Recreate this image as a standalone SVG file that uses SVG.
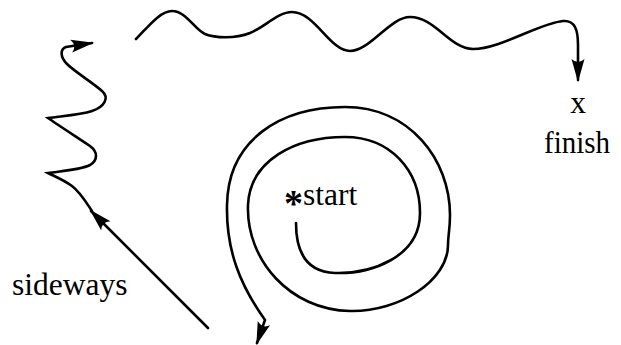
<svg xmlns="http://www.w3.org/2000/svg" width="621" height="345" viewBox="0 0 621 345">
<style>
.ln{fill:none;stroke:#000;stroke-width:2.6;stroke-linecap:round;stroke-linejoin:miter}
.t{font-family:"Liberation Serif","Times New Roman",serif;font-size:31.5px;fill:#000}
</style>
<defs>
<marker id="ah" viewBox="-25 -8 27 16" refX="-2" refY="0" markerWidth="27" markerHeight="16" markerUnits="userSpaceOnUse" orient="auto" overflow="visible">
<path d="M0,0 L-23,-6.5 Q-17,0 -23,6.5 Z" fill="#000"/>
</marker>
</defs>
<rect width="621" height="345" fill="#fff"/>
<g id="connectors">
<path id="wave" class="ln" marker-end="url(#ah)" d="M136,39 C148,27 160,11 172,11 C186,11 195,30 205,34 C215,38 235,39 250,33 C265,27 278,12 292,12 C315,12 330,51 350,51 C370,51 390,17 410,17 C435,17 450,49 473,49 C500,49 540,23 563,21 C575,20 578,30 578,45 L578,80"/>
<path id="squiggle" class="ln" marker-end="url(#ah)" d="M92,211 C86,202 80,192 72,186 C64,180 54,176 48,173 C62,171 80,170 90,165 C98,160 98,152 90,146 C75,136 58,125 48,118 C62,116 80,115 92,111 C104,107 110,98 102,91 C92,82 75,72 67,64 C60,57 60,49 66,47 L92,43"/>
<path id="sideways-arrow" class="ln" marker-end="url(#ah)" d="M208,328 L91,211"/>
<path id="spiral" class="ln" marker-end="url(#ah)" d="M296,223 C296,250 305,272 335,273 C370,274 420,258 420,213 C420,170 390,137 345,137 C295,137 250,160 248,205 C246,260 290,310 350,311 C400,312 448,280 448,245 C448,235 450,230 450,215 C450,160 410,107 345,107 C280,107 228,140 227,205 C226,250 240,285 265,320 L257,343"/>
</g>
<g id="node-x"><text class="t" x="578" y="113" text-anchor="middle">x</text></g>
<g id="node-finish"><text class="t" x="577" y="153" text-anchor="middle" textLength="66" lengthAdjust="spacingAndGlyphs">finish</text></g>
<g id="node-start"><text class="t" x="284" y="205"><tspan dy="11" font-size="38" font-weight="bold">*</tspan><tspan dy="-11">start</tspan></text></g>
<g id="node-sideways"><text class="t" x="12" y="295">sideways</text></g>
</svg>
